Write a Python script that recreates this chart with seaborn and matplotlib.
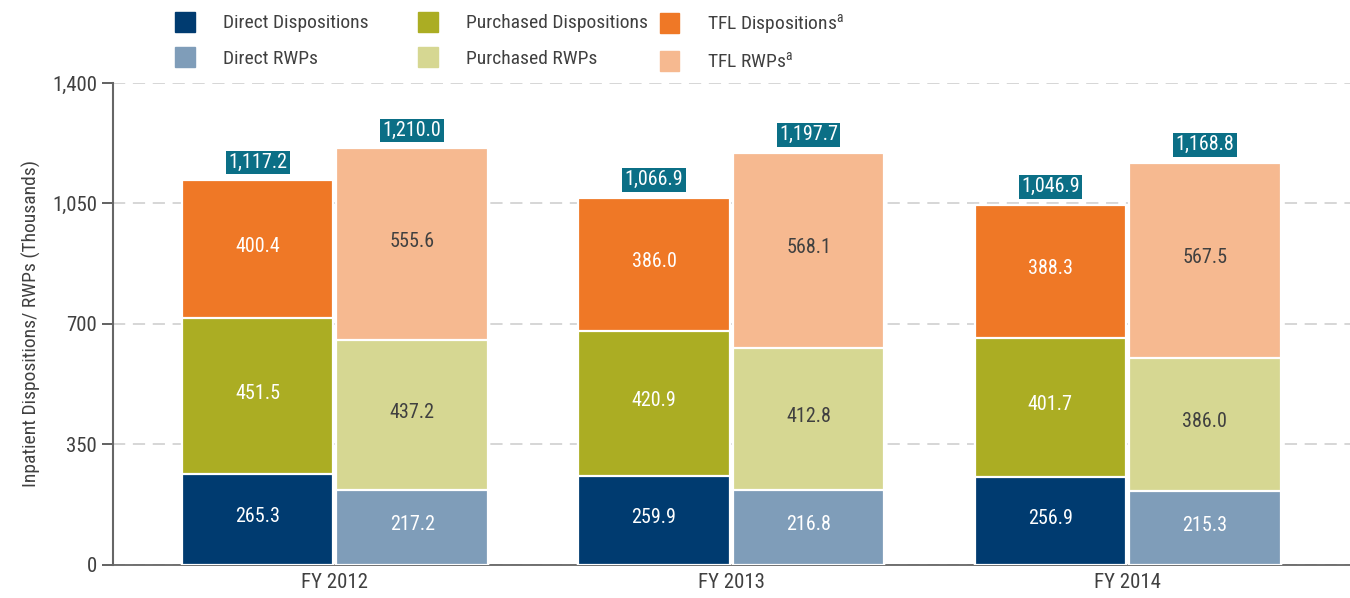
import pandas as pd
import matplotlib
matplotlib.use('Agg')
import matplotlib.pyplot as plt
import matplotlib.patches as mpatches
from matplotlib.ticker import FuncFormatter
import seaborn as sns

years = ['FY 2012', 'FY 2013', 'FY 2014']
direct_disp = [265.3, 259.9, 256.9]
purchased_disp = [451.5, 420.9, 401.7]
tfl_disp = [400.4, 386.0, 388.3]
direct_rwp = [217.2, 216.8, 215.3]
purchased_rwp = [437.2, 412.8, 386.0]
tfl_rwp = [555.6, 568.1, 567.5]
total_disp = [1117.2, 1066.9, 1046.9]
total_rwp = [1210.0, 1197.7, 1168.8]

c_dd, c_dr = '#003b70', '#7f9db9'
c_pd, c_pr = '#abad23', '#d6d792'
c_td, c_tr = '#ef7826', '#f6b990'
teal = '#0b6f86'
dark_text = '#404040'

sns.set_style('white')
plt.rcParams['font.family'] = ['Roboto Condensed', 'Liberation Sans', 'DejaVu Sans']
plt.rcParams['mathtext.fontset'] = 'custom'
plt.rcParams['mathtext.rm'] = 'Roboto Condensed'

rows = []
for i, y in enumerate(years):
    rows.append({'year': y, 'kind': 'Dispositions',
                 'l1': direct_disp[i], 'l2': direct_disp[i] + purchased_disp[i],
                 'l3': direct_disp[i] + purchased_disp[i] + tfl_disp[i]})
    rows.append({'year': y, 'kind': 'RWPs',
                 'l1': direct_rwp[i], 'l2': direct_rwp[i] + purchased_rwp[i],
                 'l3': direct_rwp[i] + purchased_rwp[i] + tfl_rwp[i]})
df = pd.DataFrame(rows)

fig = plt.figure(figsize=(13.5, 5.98), dpi=100)
ax = fig.add_axes([0.0837, 0.0552, 0.916, 0.806])

layers = [('l3', [c_td, c_tr]), ('l2', [c_pd, c_pr]), ('l1', [c_dd, c_dr])]
for col, pal in layers:
    sns.barplot(data=df, x='year', y=col, hue='kind', hue_order=['Dispositions', 'RWPs'],
                palette=pal, width=0.78, gap=0.02, edgecolor='white', linewidth=1.6,
                legend=False, ax=ax, zorder=3, saturation=1)

# segment labels
segs = {
    'Dispositions': [(direct_disp, 'white'), (purchased_disp, 'white'), (tfl_disp, 'white')],
    'RWPs': [(direct_rwp, 'white'), (purchased_rwp, dark_text), (tfl_rwp, dark_text)],
}
# containers: 0,1 -> top layer (disp, rwp)
disp_bars = ax.containers[0].patches
rwp_bars = ax.containers[1].patches
for kind, bars, totals in [('Dispositions', disp_bars, total_disp), ('RWPs', rwp_bars, total_rwp)]:
    for i, p in enumerate(bars):
        xc = p.get_x() + p.get_width() / 2
        base = 0
        for vals, tc in segs[kind]:
            ax.text(xc, base + vals[i] / 2 + 8, f'{vals[i]:.1f}', ha='center', va='center',
                    color=tc, fontsize=14.5, zorder=5)
            base += vals[i]
        ax.annotate(f'{totals[i]:,.1f}', (xc, p.get_height()), xytext=(0, 6),
                    textcoords='offset points', ha='center', va='bottom', color='white',
                    fontsize=14.5, zorder=5,
                    bbox=dict(boxstyle='square,pad=0.12', fc=teal, ec='none'))

ax.set_ylim(0, 1400)
ax.set_xlim(-0.56, 2.56)
ax.set_yticks([0, 350, 700, 1050, 1400])
ax.yaxis.set_major_formatter(FuncFormatter(lambda v, _: f'{v:,.0f}'))
ax.yaxis.grid(True, color='#cccccc', linestyle=(0, (8, 5)), linewidth=1.1, zorder=0)
ax.set_axisbelow(True)
ax.set_xlabel('')
ax.set_ylabel('Inpatient Dispositions/ RWPs (Thousands)', fontsize=14, color=dark_text, labelpad=8)
ax.tick_params(axis='y', length=8, width=1.3, color='#555555', labelsize=15,
               labelcolor=dark_text, left=True, direction='out')
ax.tick_params(axis='x', length=0, labelsize=15, labelcolor=dark_text, pad=6)
for s in ['top', 'right']:
    ax.spines[s].set_visible(False)
ax.spines['left'].set_color('#666666')
ax.spines['left'].set_linewidth(1.5)
ax.spines['bottom'].set_color('#666666')
ax.spines['bottom'].set_linewidth(1.3)

sup = '$^{\\mathrm{a}}$'
legend_cols = [
    (0.124, [('Direct Dispositions', c_dd), ('Direct RWPs', c_dr)]),
    (0.304, [('Purchased Dispositions', c_pd), ('Purchased RWPs', c_pr)]),
    (0.483, [('TFL Dispositions' + sup, c_td), ('TFL RWPs' + sup, c_tr)]),
]
for xpos, items in legend_cols:
    handles = [mpatches.Patch(color=c, label=l) for l, c in items]
    leg = fig.legend(handles=handles, loc='upper left', bbox_to_anchor=(xpos, 0.993),
                     frameon=False, fontsize=14, handlelength=1.0, handleheight=1.2,
                     handletextpad=1.45, labelspacing=0.75, borderaxespad=0)
    for t in leg.get_texts():
        t.set_color(dark_text)

fig.savefig('out.png', dpi=100)
